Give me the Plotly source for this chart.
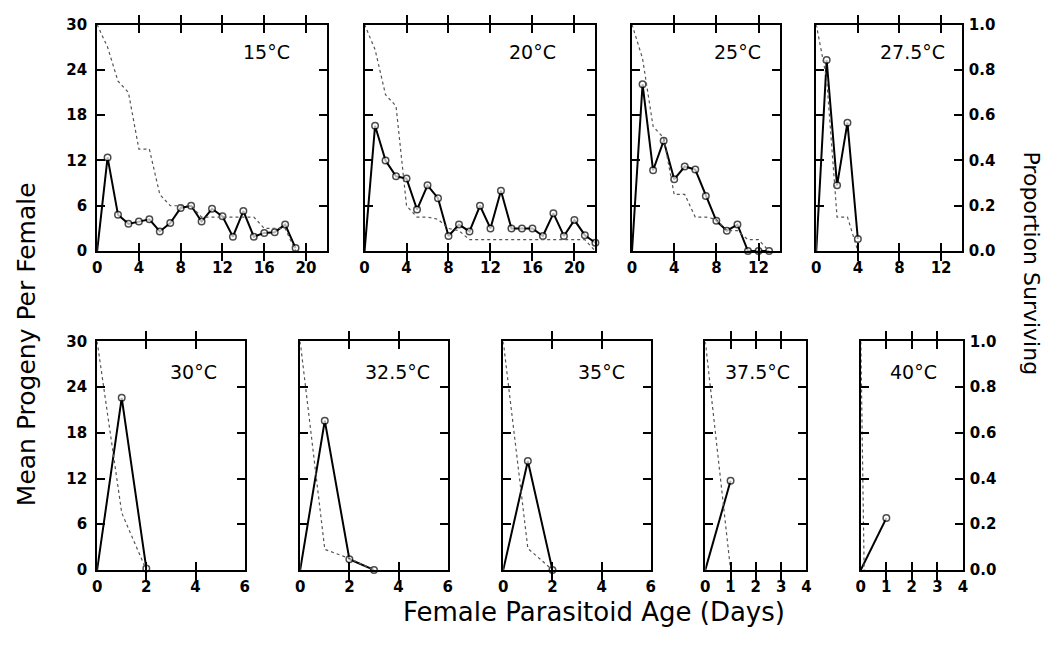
import plotly.graph_objects as go

W, H = 1058, 645

# ---------------- data ----------------
temps = ["15°C", "20°C", "25°C", "27.5°C", "30°C", "32.5°C", "35°C", "37.5°C", "40°C"]

days_15 = list(range(0, 20))
prog_15 = [0, 12.4, 4.8, 3.6, 3.9, 4.2, 2.6, 3.7, 5.7, 6.0, 3.9, 5.6, 4.6, 1.9, 5.3, 1.9, 2.4, 2.5, 3.5, 0.4]
surv_15 = [1.0, 0.9, 0.75, 0.7, 0.45, 0.45, 0.25, 0.2, 0.2, 0.2, 0.15, 0.15, 0.15, 0.15, 0.15, 0.15, 0.1, 0.1, 0.1, 0.0]

days_20 = list(range(0, 23))
prog_20 = [0, 16.6, 12.0, 9.9, 9.6, 5.5, 8.7, 7.0, 2.0, 3.5, 2.6, 6.0, 3.0, 8.0, 3.0, 3.0, 3.0, 2.0, 5.0, 2.0, 4.1, 2.1, 1.1]
surv_20 = [1.0, 0.89, 0.69, 0.64, 0.2, 0.15, 0.15, 0.14, 0.1, 0.09, 0.05, 0.05, 0.05, 0.05, 0.05, 0.05, 0.05, 0.05, 0.05, 0.05, 0.05, 0.05, 0.0]

days_25 = list(range(0, 14))
prog_25 = [0, 22.1, 10.7, 14.6, 9.5, 11.2, 10.8, 7.3, 4.0, 2.7, 3.5, 0.0, 0.0, 0.0]
surv_25 = [1.0, 0.85, 0.55, 0.5, 0.25, 0.25, 0.15, 0.15, 0.14, 0.09, 0.09, 0.05, 0.05, 0.0]

days_275 = [0, 1, 2, 3, 4]
prog_275 = [0, 25.3, 8.7, 17.0, 1.6]
surv_275 = [1.0, 0.76, 0.15, 0.15, 0.0]

days_30 = [0, 1, 2]
prog_30 = [0, 22.6, 0.2]
surv_30 = [1.0, 0.25, 0.0]

days_325 = [0, 1, 2, 3]
prog_325 = [0, 19.6, 1.4, 0.0]
surv_325 = [1.0, 0.09, 0.05, 0.0]

days_35 = [0, 1, 2]
prog_35 = [0, 14.3, 0.0]
surv_35 = [1.0, 0.094, 0.0]

days_375 = [0, 1]
prog_375 = [0, 11.7]
surv_days_375 = [0, 1]
surv_375 = [1.0, 0.0]

days_40 = [0, 1]
prog_40 = [0, 6.8]
surv_days_40 = [0, 0.13]
surv_40 = [1.0, 0.0]

y_ticks = [0, 6, 12, 18, 24, 30]
surv_ticks = [0.0, 0.2, 0.4, 0.6, 0.8, 1.0]

panels = [
    dict(d=days_15, p=prog_15, sd=days_15, s=surv_15, xr=22, dt=4),
    dict(d=days_20, p=prog_20, sd=days_20, s=surv_20, xr=22, dt=4),
    dict(d=days_25, p=prog_25, sd=days_25, s=surv_25, xr=14, dt=4),
    dict(d=days_275, p=prog_275, sd=days_275, s=surv_275, xr=14, dt=4),
    dict(d=days_30, p=prog_30, sd=days_30, s=surv_30, xr=6, dt=2),
    dict(d=days_325, p=prog_325, sd=days_325, s=surv_325, xr=6, dt=2),
    dict(d=days_35, p=prog_35, sd=days_35, s=surv_35, xr=6, dt=2),
    dict(d=days_375, p=prog_375, sd=surv_days_375, s=surv_375, xr=4, dt=1),
    dict(d=days_40, p=prog_40, sd=surv_days_40, s=surv_40, xr=4, dt=1),
]

# ---------------- layout geometry (pixels) ----------------
px_x = [(93, 325), (363, 596), (633, 782), (819, 966),
        (93, 242), (298, 447), (503, 652), (707, 809), (864, 967)]
row_y = [(16, 249), (342, 577)]
label_pos = [(264, 44), (533, 44), (739, 44), (916, 44),
             (190, 373), (396, 373), (602, 373), (760, 373), (917, 373)]

def fx(p):
    return p / W

def fy(p):
    return 1 - p / H

fig = go.Figure()
layout = dict(width=W, height=H, margin=dict(l=0, r=0, t=0, b=0),
              paper_bgcolor="white", plot_bgcolor="white", showlegend=False)

tickfont = dict(family="DejaVu Sans", size=15, color="black", weight="bold")
annotations = []

for i, pn in enumerate(panels):
    n = i + 1
    sfx = "" if n == 1 else str(n)
    xa = "x" + sfx
    ya = "y" + sfx
    ys = "y" + str(n + 9)
    row = 0 if i < 4 else 1
    x0, x1 = px_x[i]
    yt, yb = row_y[row]

    layout["xaxis" + sfx] = dict(
        domain=[fx(x0), fx(x1)], anchor=ya, range=[0, pn["xr"]], dtick=pn["dt"], tick0=0,
        showline=True, linewidth=2, linecolor="black", mirror="allticks",
        ticks="inside", ticklen=8, tickwidth=2, tickcolor="black",
        showgrid=False, zeroline=False, tickfont=tickfont, ticklabelstandoff=2,
    )
    layout["yaxis" + sfx] = dict(
        domain=[fy(yb), fy(yt)], anchor=xa, range=[0, 30], tickvals=y_ticks,
        showline=True, linewidth=2, linecolor="black", mirror="allticks",
        ticks="inside", ticklen=8, tickwidth=2, tickcolor="black",
        showgrid=False, zeroline=False, tickfont=tickfont, ticklabelstandoff=5,
        showticklabels=(n in (1, 5)),
    )
    layout["yaxis" + str(n + 9)] = dict(
        overlaying=ya, anchor=xa, side="right", range=[0, 1], tickvals=surv_ticks,
        tickformat=".1f", showline=False, ticks="", showgrid=False, zeroline=False,
        showticklabels=(n in (4, 9)), tickfont=tickfont, ticklabelstandoff=6,
    )

    # survival (dotted)
    fig.add_trace(go.Scatter(
        x=pn["sd"], y=pn["s"], xaxis=xa, yaxis=ys, mode="lines",
        line=dict(color="#555555", width=1.2, dash="dot"), cliponaxis=False,
        hoverinfo="skip"))
    # progeny (solid + open circles)
    sizes = [0] + [6.5] * (len(pn["d"]) - 1)
    fig.add_trace(go.Scatter(
        x=pn["d"], y=pn["p"], xaxis=xa, yaxis=ya, mode="lines+markers",
        line=dict(color="black", width=2),
        marker=dict(symbol="circle", size=sizes, color="white",
                    line=dict(color="black", width=1.5)),
        cliponaxis=False))

    lx, ly = label_pos[i]
    annotations.append(dict(
        text=temps[i], xref="paper", yref="paper", x=fx(lx), y=fy(ly),
        xanchor="center", yanchor="middle", showarrow=False,
        font=dict(family="DejaVu Sans", size=19, color="black")))

annotations.append(dict(
    text="Female Parasitoid Age (Days)", xref="paper", yref="paper",
    x=fx(595), y=fy(620), xanchor="center", yanchor="middle", showarrow=False,
    font=dict(family="DejaVu Sans", size=26, color="black")))
annotations.append(dict(
    text="Mean Progeny Per Female", xref="paper", yref="paper",
    x=fx(22), y=fy(345), xanchor="center", yanchor="middle", showarrow=False,
    textangle=-90, font=dict(family="DejaVu Sans", size=25, color="black")))
annotations.append(dict(
    text="Proportion Surviving", xref="paper", yref="paper",
    x=fx(1036), y=fy(262), xanchor="center", yanchor="middle", showarrow=False,
    textangle=90, font=dict(family="DejaVu Sans", size=22, color="black")))

layout["annotations"] = annotations
fig.update_layout(**layout)
fig.write_html("out.html", config={"displayModeBar": False},
               post_script="document.body.style.margin='0';")
